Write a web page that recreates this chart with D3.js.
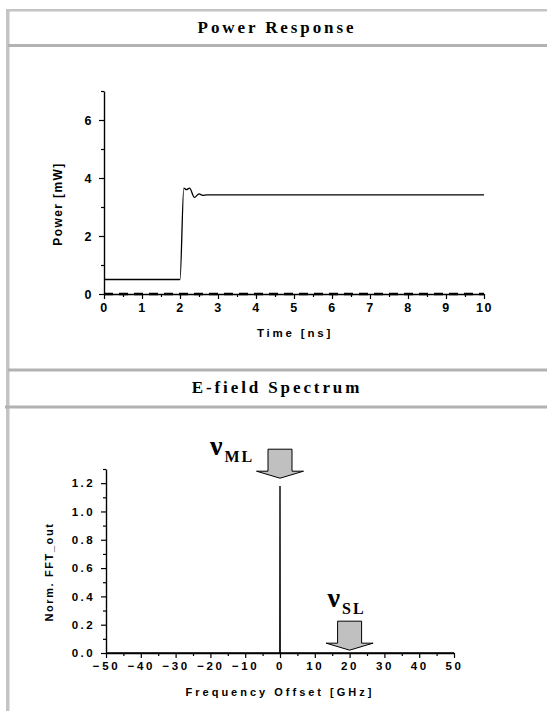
<!DOCTYPE html>
<html>
<head>
<meta charset="utf-8">
<script src="https://cdn.jsdelivr.net/npm/d3@7/dist/d3.min.js"></script>
<style>
  html, body { margin: 0; padding: 0; background: #fff; }
  svg { display: block; }
  .tick-label { font-family: "Liberation Sans", Arial, sans-serif; font-weight: bold; }
  .panel-title { font-family: "Liberation Serif", "Times New Roman", serif; font-weight: bold; }
</style>
</head>
<body>
<svg id="chart" width="547" height="711"></svg>
<script>
// ---- Power response (time domain) ----
const timeNs      = [0, 2.0, 2.1, 2.17, 2.25, 2.38, 2.5, 2.6, 2.7, 10];
const powerML     = [0.5, 0.5, 3.65, 3.6, 3.65, 3.33, 3.45, 3.4, 3.42, 3.42];
const timeSL      = [0, 10];
const powerSL     = [0, 0];
const timeTicks   = [0, 1, 2, 3, 4, 5, 6, 7, 8, 9, 10];
const powerTicks  = [0, 2, 4, 6];

// ---- E-field spectrum ----
const freqGHz     = [-50, -0.05, 0, 0.05, 50];
const fftOut      = [0, 0, 1.18, 0, 0];
const freqTicks   = [-50, -40, -30, -20, -10, 0, 10, 20, 30, 40, 50];
const fftTicks    = [0.0, 0.2, 0.4, 0.6, 0.8, 1.0, 1.2];

// Mode markers above the spectrum (position in GHz, arrow tip height in FFT units)
const modeNames   = ["ML", "SL"];
const modeFreq    = [0, 20];
const modeTip     = [1.235, 0.02];

const svg = d3.select("#chart");
const frameColor = "#c4c4c4";
const sepColor = "#b2b2b2";

// ---- page frame ----
svg.append("rect").attr("x", 6).attr("y", 9).attr("width", 547).attr("height", 2.5).attr("fill", frameColor);
svg.append("rect").attr("x", 6).attr("y", 9).attr("width", 3.5).attr("height", 711).attr("fill", frameColor);
svg.append("rect").attr("x", 8).attr("y", 44).attr("width", 547).attr("height", 3).attr("fill", sepColor);
svg.append("rect").attr("x", 8).attr("y", 368.5).attr("width", 547).attr("height", 3).attr("fill", sepColor);
svg.append("rect").attr("x", 5).attr("y", 405.5).attr("width", 547).attr("height", 3).attr("fill", sepColor);

svg.append("text").attr("class", "panel-title")
  .attr("x", 277).attr("y", 33).attr("text-anchor", "middle")
  .style("font-size", "17px").style("letter-spacing", "2.9px")
  .text("Power Response");
svg.append("text").attr("class", "panel-title")
  .attr("x", 277).attr("y", 393).attr("text-anchor", "middle")
  .style("font-size", "17px").style("letter-spacing", "2.9px")
  .text("E-field Spectrum");

function styleAxis(g, fontSize, spacing) {
  g.select(".domain").attr("stroke", "#000").attr("stroke-width", 1.4);
  g.selectAll(".tick line").attr("stroke", "#000").attr("stroke-width", 1.2);
  g.selectAll(".tick text")
    .attr("class", "tick-label")
    .attr("fill", "#000")
    .style("font-size", fontSize + "px")
    .style("letter-spacing", spacing + "px");
}

// ================= Panel 1 =================
const x1 = d3.scaleLinear().domain([0, 10]).range([104, 484]);
const y1 = d3.scaleLinear().domain([0, 7]).range([294, 91]);

// minor ticks
svg.append("g").attr("transform", `translate(0,${y1(0)})`)
  .call(d3.axisBottom(x1).tickValues(d3.range(0.5, 10, 1)).tickSize(3).tickFormat(""))
  .call(g => { g.select(".domain").remove(); g.selectAll("line").attr("stroke", "#000").attr("stroke-width", 1.2); });
svg.append("g").attr("transform", `translate(${x1(0)},0)`)
  .call(d3.axisLeft(y1).tickValues([1, 3, 5, 7]).tickSize(3).tickFormat(""))
  .call(g => { g.select(".domain").remove(); g.selectAll("line").attr("stroke", "#000").attr("stroke-width", 1.2); });

svg.append("g").attr("transform", `translate(0,${y1(0)})`)
  .call(d3.axisBottom(x1).tickValues(timeTicks).tickSize(5).tickSizeOuter(0).tickPadding(4).tickFormat(d3.format("d")))
  .call(g => styleAxis(g, 12.5, 1.5));
svg.append("g").attr("transform", `translate(${x1(0)},0)`)
  .call(d3.axisLeft(y1).tickValues(powerTicks).tickSize(5).tickSizeOuter(0).tickPadding(6).tickFormat(d3.format("d")))
  .call(g => styleAxis(g, 12.5, 1.5));

const line1 = d3.line().x(d => x1(d[0])).y(d => y1(d[1])).curve(d3.curveMonotoneX);
svg.append("path").datum(d3.zip(timeNs, powerML))
  .attr("d", line1).attr("fill", "none").attr("stroke", "#000").attr("stroke-width", 1.3);
svg.append("path").datum(d3.zip(timeSL, powerSL))
  .attr("d", d3.line().x(d => x1(d[0])).y(d => y1(d[1])))
  .attr("fill", "none").attr("stroke", "#000").attr("stroke-width", 2.6)
  .attr("stroke-dasharray", "9,6");

svg.append("text").attr("class", "tick-label")
  .attr("x", 295).attr("y", 337).attr("text-anchor", "middle")
  .style("font-size", "11.5px").style("letter-spacing", "2.8px")
  .text("Time [ns]");
svg.append("text").attr("class", "tick-label")
  .attr("transform", "translate(62,204) rotate(-90)").attr("text-anchor", "middle")
  .style("font-size", "12px").style("letter-spacing", "1.4px")
  .text("Power [mW]");

// ================= Panel 2 =================
const x2 = d3.scaleLinear().domain([-50, 50]).range([106, 454]);
const y2 = d3.scaleLinear().domain([0, 1.3]).range([653, 469]);

svg.append("g").attr("transform", `translate(0,${y2(0)})`)
  .call(d3.axisBottom(x2).tickValues(d3.range(-45, 50, 10)).tickSize(3).tickFormat(""))
  .call(g => { g.select(".domain").remove(); g.selectAll("line").attr("stroke", "#000").attr("stroke-width", 1.2); });
svg.append("g").attr("transform", `translate(${x2(-50)},0)`)
  .call(d3.axisLeft(y2).tickValues([0.1, 0.3, 0.5, 0.7, 0.9, 1.1, 1.3]).tickSize(3).tickFormat(""))
  .call(g => { g.select(".domain").remove(); g.selectAll("line").attr("stroke", "#000").attr("stroke-width", 1.2); });

svg.append("g").attr("transform", `translate(0,${y2(0)})`)
  .call(d3.axisBottom(x2).tickValues(freqTicks).tickSize(5).tickSizeOuter(0).tickPadding(4).tickFormat(d3.format("d")))
  .call(g => styleAxis(g, 11.5, 2.6));
svg.append("g").attr("transform", `translate(${x2(-50)},0)`)
  .call(d3.axisLeft(y2).tickValues(fftTicks).tickSize(5).tickSizeOuter(0).tickPadding(6).tickFormat(d3.format(".1f")))
  .call(g => styleAxis(g, 11.5, 2.4));

svg.append("path").datum(d3.zip(freqGHz, fftOut))
  .attr("d", d3.line().x(d => x2(d[0])).y(d => y2(d[1])))
  .attr("fill", "none").attr("stroke", "#000").attr("stroke-width", 1.4);

svg.append("text").attr("class", "tick-label")
  .attr("x", 280).attr("y", 696).attr("text-anchor", "middle")
  .style("font-size", "11px").style("letter-spacing", "3px")
  .text("Frequency Offset [GHz]");
svg.append("text").attr("class", "tick-label")
  .attr("transform", "translate(53,572) rotate(-90)").attr("text-anchor", "middle")
  .style("font-size", "11px").style("letter-spacing", "1.6px")
  .text("Norm. FFT_out");

// block arrows pointing down at each mode, with ν labels
const shaftW = 24, headW = 47, shaftH = 22, headH = 7;
// label anchor relative to arrow centre / arrow top
const labelDx = [-70, -22];
const labelDy = [6, -14];
modeNames.forEach((name, i) => {
  const cx = x2(modeFreq[i]);
  const tip = y2(modeTip[i]);
  const top = tip - shaftH - headH;
  const pts = [
    [cx - shaftW / 2, top], [cx + shaftW / 2, top],
    [cx + shaftW / 2, tip - headH], [cx + headW / 2, tip - headH],
    [cx, tip], [cx - headW / 2, tip - headH],
    [cx - shaftW / 2, tip - headH]
  ];
  svg.append("polygon").attr("points", pts.map(p => p.join(",")).join(" "))
    .attr("fill", "#c0c0c0").attr("stroke", "#000").attr("stroke-width", 1);

  const lbl = svg.append("text").attr("class", "panel-title")
    .attr("x", cx + labelDx[i]).attr("y", top + labelDy[i]);
  lbl.append("tspan").style("font-size", "28px").text("ν");
  lbl.append("tspan").attr("dy", 7).attr("dx", 2).style("font-size", "16px").style("letter-spacing", "2px").text(name);
});
</script>
</body>
</html>
